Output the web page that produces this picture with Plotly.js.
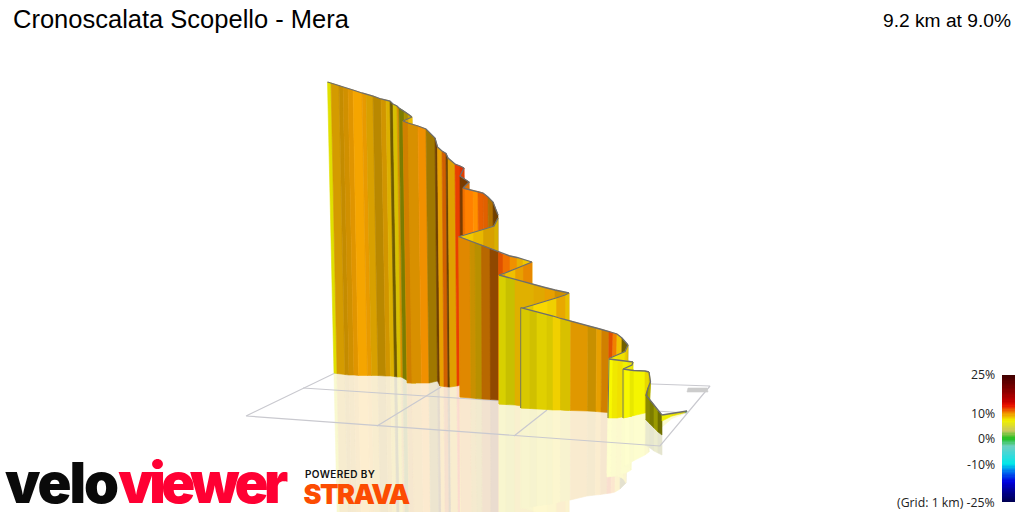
<!DOCTYPE html>
<html><head><meta charset="utf-8">
<script src="https://cdn.plot.ly/plotly-3.0.1.min.js"></script>
<style>
html,body{margin:0;padding:0;background:#fff}
#c{width:1024px;height:512px}
.annotation[data-index="0"] text{letter-spacing:-2px}
.annotation[data-index="1"] text{letter-spacing:-4.4px}
.annotation[data-index="2"] text{letter-spacing:0.4px}
.annotation[data-index="3"] text{letter-spacing:-1.5px}
</style></head><body><div id="c"></div>
<script>
const chartTitle="Cronoscalata Scopello - Mera";
const chartSummary="9.2 km at 9.0%";
const gradeLabels=["25%","10%","0%","-10%","(Grid: 1 km) -25%"];
const gradeLabelY=[374.5,413,438,464,502];

const w1TopX=[327.5,331,339,343,348,353,362,366,373,381,386,390,393,397,399,404,408,412];
const w1TopY=[82,83,85.5,87,88.5,90,93,94,96,99,100,101,104,106,108,111,114,117];
const w1BaseX=[334,337,345,349,354,358.5,367.5,371.5,378,386,390.5,394.5,397.5,401,403,408,412,416];
const w1BaseY=[373,373.5,374.5,375,375,375.5,375.5,375.5,375.5,376,376,376.5,377,377,378,381,383,383];
const w1Colors=["#e0e000","#d49b00","#c48c00","#d09000","#e09500","#f5a500","#e89a00","#d8a000","#b98800","#d19500","#dcb000","#6f5a00","#d8c000","#d49000","#7c7c00","#a89000","#c8a000"];

const f1TopX=[412,408,403];
const f1TopY=[117,119,121];
const f1BaseX=[416,412,407];
const f1BaseY=[383,383,383];
const f1Colors=["#eec000","#d8a000"];

const w2TopX=[403,408,418,426,435,437.5,442,446,448,455,460,464];
const w2TopY=[121,123,126,129,138,147,151,153.5,158,164,166,168];
const w2BaseX=[407.5,412,421.5,429,437.5,440,444,448,450,457,461,465];
const w2BaseY=[382.5,383,383,383,381,386,386.5,387,387,386,385,385];
const w2Colors=["#d08000","#d89000","#f09000","#a07800","#704000","#e8a000","#d06000","#6a4000","#e0a000","#e84000","#e03000"];

const w3TopX=[464,460,469,463];
const w3TopY=[168,176,182,188];
const w3BaseX=[465,461,470,464];
const w3BaseY=[385,385,390,392];
const w3Colors=["#e04000","#7a3c00","#e07000"];

const w4TopX=[463,465,473,478,483,488,493,498];
const w4TopY=[188,188.5,190.5,191.5,193,197,202,215];
const w4BaseX=[464,466,474,479,484,489,494,498];
const w4BaseY=[395,395,395,395,395,395,395,395];
const w4Colors=["#f07000","#ff8000","#ff9000","#e86000","#e06000","#b07000","#704000"];

const f4TopX=[498,494,483,473,459.5];
const f4TopY=[218,226,229.5,232.5,236.5];
const f4BaseX=[498,494,483,473,460];
const f4BaseY=[397,397,397,397,397];
const f4Colors=["#d8b000","#d8a000","#e8b800","#f0c800"];

const w5TopX=[458.5,470,475,481.5,490,498.5,503,510,517,523,532];
const w5TopY=[236.5,241,243,245,248.5,252,254,256,257.5,259.5,262];
const w5BaseX=[460,471,476,482,490.5,498.5,503,510,517,523,532];
const w5BaseY=[397,398,398.5,399,399.5,400,400,400,401,401,402];
const w5Colors=["#e08800","#c89000","#b89000","#b86800","#904800","#e05000","#f07000","#f09000","#e8b000","#f0c800"];

const f5TopX=[532,523,515,505,499];
const f5TopY=[262,266,269,273,275];
const f5BaseX=[532,523,515,505,499];
const f5BaseY=[402,403,403,404,404];
const f5Colors=["#e88800","#e8a000","#f0c000","#e0a000"];

const w6TopX=[499,506,515,534,545,555,569];
const w6TopY=[275,277,279.5,284.5,287.5,290,293];
const w6BaseX=[499,506,515,534,545,555,569];
const w6BaseY=[404,404.5,405,408,408,409,410];
const w6Colors=["#d8d000","#c8c000","#e0b000","#e0a800","#e8a000","#d09000"];

const f6TopX=[569,565,556,547,533,521];
const f6TopY=[293,295,298,301,305,308.5];
const f6BaseX=[569,565,556,547,533,521];
const f6BaseY=[410,410,409,409,408,408];
const f6Colors=["#e8c000","#e8a800","#f0d000","#f8d800","#e0c800"];

const w7TopX=[520.7,530,537,547,553,560.7,570.7,588,596.7,601.7,609,613,617,622,628];
const w7TopY=[307.7,310,312,314.5,316,318.5,321,326,328,329.5,331.5,333,334,338,345];
const w7BaseX=[520.7,530,537,547,553,560.5,570.5,587.5,596,601,608,612,616,621,627];
const w7BaseY=[408,408.5,409,409.5,410,410,410.5,411,411.5,412,412.5,413,413,413.5,414];
const w7Colors=["#d8c800","#d0c000","#e0d000","#d8c800","#f0d000","#d8c000","#e09800","#c89000","#e8a000","#d08000","#e05000","#f08000","#f0c000","#706000"];

const f7TopX=[628,625,617,609];
const f7TopY=[345,351.5,355,358.5];
const f7BaseX=[627,624,616,608];
const f7BaseY=[414,415,415,416];
const f7Colors=["#e8c800","#f0e000","#f0e800"];

const w8TopX=[609,613,618,623,628,633];
const w8TopY=[359,359.5,360,360.5,361,362];
const w8BaseX=[608,612,617,622,627,632];
const w8BaseY=[418,418,418,417,417,416];
const w8Colors=["#f8f800","#f0e800","#f0e000","#f0f000","#f0e800"];

const f8TopX=[633,632,623];
const f8TopY=[362,365,369];
const f8BaseX=[632,631,623];
const f8BaseY=[416,416,418];
const f8Colors=["#e0e000","#ecec00"];

const w9TopX=[623,625,630,634,645,649];
const w9TopY=[369,369.5,370,370.5,371,372];
const w9BaseX=[623,625,630,634,645,649];
const w9BaseY=[418,417.5,416.5,415.5,413,412];
const w9Colors=["#f0f000","#f8f800","#e8e800","#f5f500","#e8d800"];

const d1TopX=[649,650.5,648,646,650,654,658,662];
const d1TopY=[372,382,388,395,400,405,411,415];
const d1BaseX=[649,649,647,646,650,654,658,662];
const d1BaseY=[412,414,417,420,424,428,432,435];
const d1Colors=["#c8c000","#a8a800","#8a8a00","#8a8a00","#7c7c00","#9a9a00","#707000"];

const w10TopX=[662,672,680,685,687];
const w10TopY=[415,413.5,412.5,411.5,411];
const w10BaseX=[662,672,680,685,687];
const w10BaseY=[421,416,414,412.5,412];
const w10Colors=["#eeee00","#e8e000","#d8d000","#60a060"];

const gridOuterX=[246,335,710,660,246];
const gridOuterY=[416,373,386,446,416];
const gridRowX=[303,687];
const gridRowY=[388,413];
const gridCol1X=[377,441];
const gridCol1Y=[426,387];
const gridCol2X=[514,547];
const gridCol2Y=[436,410];
const patchX=[688,707,708,687,688];
const patchY=[388,388,392,392,388];

const scaleGrades=[-25,-20,-17,-13,-10,-6,-3,0,3,7,10,13,15,20,25];
const scaleColors=["#000050","#0000a0","#0000e0","#0070f0","#00e8e8","#40d8d8","#70d0c0","#20c020","#c8c860","#f0f000","#f09000","#e81000","#c00000","#780000","#400000"];

const walls=[
 [w1TopX,w1TopY,w1BaseX,w1BaseY,w1Colors],[f1TopX,f1TopY,f1BaseX,f1BaseY,f1Colors],
 [w2TopX,w2TopY,w2BaseX,w2BaseY,w2Colors],[w3TopX,w3TopY,w3BaseX,w3BaseY,w3Colors],
 [w4TopX,w4TopY,w4BaseX,w4BaseY,w4Colors],[f4TopX,f4TopY,f4BaseX,f4BaseY,f4Colors],
 [w5TopX,w5TopY,w5BaseX,w5BaseY,w5Colors],[f5TopX,f5TopY,f5BaseX,f5BaseY,f5Colors],
 [w6TopX,w6TopY,w6BaseX,w6BaseY,w6Colors],[f6TopX,f6TopY,f6BaseX,f6BaseY,f6Colors],
 [w7TopX,w7TopY,w7BaseX,w7BaseY,w7Colors],[f7TopX,f7TopY,f7BaseX,f7BaseY,f7Colors],
 [w8TopX,w8TopY,w8BaseX,w8BaseY,w8Colors],[f8TopX,f8TopY,f8BaseX,f8BaseY,f8Colors],
 [w9TopX,w9TopY,w9BaseX,w9BaseY,w9Colors],[d1TopX,d1TopY,d1BaseX,d1BaseY,d1Colors],
 [w10TopX,w10TopY,w10BaseX,w10BaseY,w10Colors]
];
const darkEdges=[10,12,14];

function pale(hex,a){
  const n=parseInt(hex.slice(1),16),r=n>>16,g=(n>>8)&255,b=n&255;
  const m=v=>Math.round(255-(255-v)*a);
  return `rgb(${m(r)},${m(g)},${m(b)})`;
}
const traces=[];
function poly(x,y,color){
  traces.push({type:"scatter",mode:"lines",x,y,fill:"toself",fillcolor:color,
    line:{color:color,width:0.6},hoverinfo:"skip"});
}
function line(x,y,color,width){
  traces.push({type:"scatter",mode:"lines",x,y,line:{color,width},hoverinfo:"skip"});
}
// reflection on the ground
walls.forEach(([tx,ty,bx,by,cs])=>{
  cs.forEach((c,i)=>{
    poly([bx[i],bx[i+1],2*bx[i+1]-tx[i+1],2*bx[i]-tx[i],bx[i]],
         [by[i],by[i+1],2*by[i+1]-ty[i+1],2*by[i]-ty[i],by[i]],pale(c,0.19));
  });
});
// ground grid
line(gridOuterX,gridOuterY,"#c9c9cf",1.2);
line(gridRowX,gridRowY,"#c9c9cf",1.2);
line(gridCol1X,gridCol1Y,"#c9c9cf",1.2);
line(gridCol2X,gridCol2Y,"#c9c9cf",1.2);
poly(patchX,patchY,"#cccccc");
// walls, back to front
walls.forEach(([tx,ty,bx,by,cs],k)=>{
  cs.forEach((c,i)=>{
    poly([tx[i],tx[i+1],bx[i+1],bx[i],tx[i]],[ty[i],ty[i+1],by[i+1],by[i],ty[i]],c);
  });
  if(darkEdges.includes(k)) line([tx[0],bx[0]],[ty[0],by[0]],"#77775a",1);
  line(tx,ty,"#6e6e6e",1.3);
});
// grade scale
const ramp=[];for(let g=-25;g<25;g+=0.5)ramp.push(g);
const rampEdges=ramp.concat([25]).map(g=>438.5-g*2.54);
traces.push({type:"heatmap",x:[1002,1015],y:rampEdges,
  z:ramp.map(g=>[g+0.25]),zmin:-25,zmax:25,showscale:false,hoverinfo:"skip",
  colorscale:scaleGrades.map((g,i)=>[(g+25)/50,scaleColors[i]])});

const ann=(x,y,text,size,color,xanchor,family,weight)=>({x,y,text,xref:"x",yref:"y",showarrow:false,
  xanchor,yanchor:"middle",font:{size,color,family,weight:weight||400},borderpad:0,borderwidth:0});
const annotations=[
  ann(61,483,"velo",56,"#0a0a0a","center","Inter",900),
  ann(201,483,"viewer",56,"#ff0033","center","Inter",900),
  ann(340,473.5,"POWERED BY",10,"#111111","center","Inter",600),
  ann(356,494,"STRAVA",27,"#fc4c02","center","Inter",900),
  ann(13,19,chartTitle,25.5,"#000000","left","Liberation Sans"),
  ann(1011,20,chartSummary,19.2,"#000000","right","Liberation Sans")
];
gradeLabels.forEach((t,i)=>annotations.push(
  ann(995,gradeLabelY[i],t,12.3,"#222222","right","Open Sans")));

Plotly.newPlot("c",traces,{
  width:1024,height:512,margin:{l:0,r:0,t:0,b:0},showlegend:false,
  paper_bgcolor:"#ffffff",plot_bgcolor:"#ffffff",
  xaxis:{range:[0,1024],visible:false,fixedrange:true},
  yaxis:{range:[512,0],visible:false,fixedrange:true},
  annotations
},{displayModeBar:false,staticPlot:true});
</script></body></html>
